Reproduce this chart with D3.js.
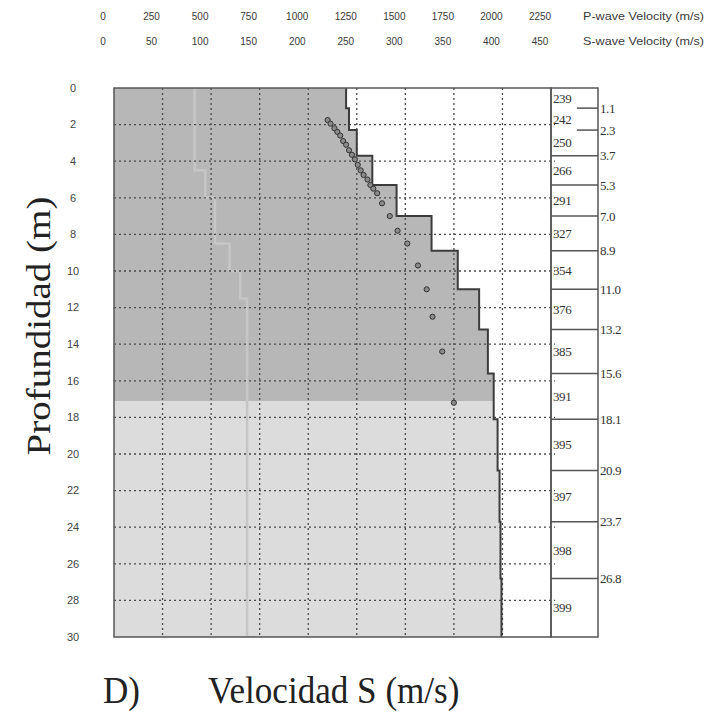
<!DOCTYPE html>
<html><head><meta charset="utf-8">
<script src="https://cdn.jsdelivr.net/npm/d3@7"></script>
<style>body{margin:0;background:#fff}</style>
</head><body>
<script>
// ---- data ----
const layerVs = [239,242,250,266,291,327,354,376,385,391,395,397,398,399];
const layerBottoms = [1.1,2.3,3.7,5.3,7.0,8.9,11.0,13.2,15.6,18.1,20.9,23.7,26.8,30];
const depthLabels = ["1.1","2.3","3.7","5.3","7.0","8.9","11.0","13.2","15.6","18.1","20.9","23.7","26.8"];
const pTicks = [0,250,500,750,1000,1250,1500,1750,2000,2250];
const sTicks = [0,50,100,150,200,250,300,350,400,450];
const depthTicks = [0,2,4,6,8,10,12,14,16,18,20,22,24,26,28,30];
const dispV = [220,223,227,230,233,236,239,242,245,248,251,254,257,261,264,267,271,276,284,292,302,313,322,328,338,350];
const dispD = [1.75,1.95,2.2,2.4,2.6,2.9,3.1,3.4,3.65,3.9,4.2,4.5,4.75,5.0,5.3,5.5,5.75,6.3,7.0,7.8,8.5,9.7,11.0,12.5,14.4,17.2];
const greyVs = [83,94,104,119,130,137];
const greyBottoms = [4.5,6.0,8.5,10.0,11.5,30];
const darkCutoff = 17.1;

const W = 714, H = 723;
const svg = d3.select("body").append("svg").attr("width", W).attr("height", H);
const x = d3.scaleLinear().domain([0,450]).range([114,551]);
const xP = d3.scaleLinear().domain([0,2250]).range([114,551]);
const y = d3.scaleLinear().domain([0,30]).range([88,637]);
const labelShift = -11;

function steps(vs, bottoms){
  const pts = [];
  vs.forEach((v,i)=>{ const top = i===0?0:bottoms[i-1]; pts.push([v,top],[v,bottoms[i]]); });
  return pts;
}
const prof = steps(layerVs, layerBottoms);
const line = d3.line().x(d=>x(d[0])).y(d=>y(d[1]));
const poly = [[0,0], ...prof, [0,30]];

const defs = svg.append("defs");
defs.append("clipPath").attr("id","dark").append("rect")
  .attr("x", x(0)).attr("y", y(0)).attr("width", x(450)-x(0)).attr("height", y(darkCutoff)-y(0));

svg.append("path").attr("d", line(poly)+"Z").attr("fill","#dcdcdc");
svg.append("path").attr("d", line(poly)+"Z").attr("fill","#b7b7b7").attr("clip-path","url(#dark)");

svg.append("path").attr("d", line(steps(greyVs, greyBottoms))).attr("fill","none")
  .attr("stroke","#c6c6c6").attr("stroke-width",2.5);

const grid = svg.append("g").attr("stroke","#4a4a4a").attr("stroke-width",1.3).attr("stroke-dasharray","2,3");
sTicks.filter(v=>v>0 && v<450).forEach(v=>{
  grid.append("line").attr("x1",x(v)).attr("x2",x(v)).attr("y1",y(0)).attr("y2",y(30));
});
depthTicks.filter(d=>d>0 && d<30).forEach(d=>{
  grid.append("line").attr("x1",x(0)).attr("x2",x(450)+4).attr("y1",y(d)).attr("y2",y(d));
});

svg.append("path").attr("d", line(prof)).attr("fill","none").attr("stroke","#3c3c3c").attr("stroke-width",2);

svg.append("g").selectAll("circle").data(dispV.map((v,i)=>[v,dispD[i]])).join("circle")
  .attr("cx",d=>x(d[0])).attr("cy",d=>y(d[1])).attr("r",2.6)
  .attr("fill","#8a8a8a").attr("stroke","#333").attr("stroke-width",1);

svg.append("rect").attr("x",x(0)).attr("y",y(0)).attr("width",x(450)-x(0)).attr("height",y(30)-y(0))
  .attr("fill","none").attr("stroke","#555").attr("stroke-width",1.5);

const bx0 = x(450), bx1 = 598;
svg.append("rect").attr("x",bx0).attr("y",y(0)).attr("width",bx1-bx0).attr("height",y(30)-y(0))
  .attr("fill","none").attr("stroke","#555").attr("stroke-width",1.5);
depthLabels.forEach((lab,i)=>{
  const d = layerBottoms[i];
  const thin = (layerBottoms[i] - (i===0?0:layerBottoms[i-1])) < 1.3;
  svg.append("line").attr("x1", thin ? 577 : bx0).attr("x2", bx1).attr("y1", y(d)).attr("y2", y(d))
    .attr("stroke","#555").attr("stroke-width",1.5);
  svg.append("text").attr("x",600).attr("y",y(d)).attr("dy","0.35em")
    .attr("font-family","Liberation Serif").attr("font-size",13).attr("letter-spacing",-0.4)
    .attr("fill","#333").text(lab);
});
layerVs.forEach((v,i)=>{
  const top = i===0?0:layerBottoms[i-1];
  svg.append("text").attr("x",bx0+2).attr("y",y((top+layerBottoms[i])/2)).attr("dy","0.35em")
    .attr("font-family","Liberation Serif").attr("font-size",13).attr("letter-spacing",-0.4)
    .attr("fill","#333").text(v);
});

const topG = svg.append("g").attr("font-family","Liberation Sans").attr("font-size",10)
  .attr("fill","#3a3a3a").attr("text-anchor","middle");
pTicks.forEach(p=>topG.append("text").attr("x",xP(p)+labelShift).attr("y",20).text(p));
sTicks.forEach(s=>topG.append("text").attr("x",x(s)+labelShift).attr("y",45).text(s));
svg.append("text").attr("x",583).attr("y",20).attr("font-family","Liberation Sans").attr("font-size",10.5)
  .attr("textLength",121).attr("lengthAdjust","spacingAndGlyphs").attr("fill","#3a3a3a").text("P-wave Velocity (m/s)");
svg.append("text").attr("x",583).attr("y",45).attr("font-family","Liberation Sans").attr("font-size",10.5)
  .attr("textLength",121).attr("lengthAdjust","spacingAndGlyphs").attr("fill","#3a3a3a").text("S-wave Velocity (m/s)");

svg.append("g").selectAll("text").data(depthTicks).join("text")
  .attr("x",73).attr("y",d=>y(d)).attr("dy","0.35em").attr("text-anchor","middle")
  .attr("font-family","Liberation Sans").attr("font-size",11).attr("fill","#444").text(d=>d);

svg.append("g").attr("transform","translate(50,326) scale(0.86,1) rotate(-90)")
  .append("text").attr("text-anchor","middle").attr("font-family","Liberation Serif")
  .attr("font-size",39).attr("fill","#222").text("Profundidad (m)");
const sc = 0.9;
const bt = svg.append("g").attr("transform",`translate(0,703) scale(${sc},1)`);
bt.append("text").attr("x",103/sc).attr("y",0).attr("font-family","Liberation Serif")
  .attr("font-size",39).attr("fill","#222").text("D)");
bt.append("text").attr("x",208/sc).attr("y",0).attr("font-family","Liberation Serif")
  .attr("font-size",39).attr("fill","#222").text("Velocidad S (m/s)");
</script>
</body></html>
